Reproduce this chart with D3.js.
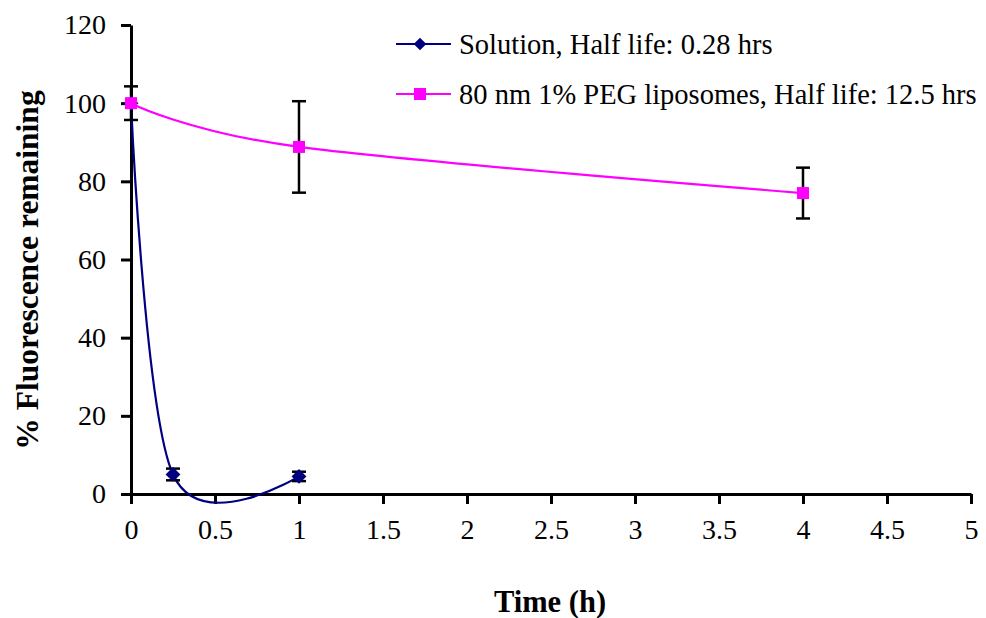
<!DOCTYPE html>
<html><head><meta charset="utf-8">
<script src="https://cdn.jsdelivr.net/npm/d3@7"></script>
</head><body style="margin:0;background:#fff">
<svg id="c" width="986" height="618" font-family="Liberation Serif" style="display:block"></svg>
<script>
const solutionTimes = [0, 0.25, 1];
const solutionValues = [100, 5.0, 4.5];
const solutionErrors = [4.3, 1.5, 1.2];
const liposomeTimes = [0, 1, 4];
const liposomeValues = [100, 88.8, 77];
const liposomeErrors = [0, 11.7, 6.5];
const xTicks = [0, 0.5, 1, 1.5, 2, 2.5, 3, 3.5, 4, 4.5, 5];
const yTicks = [0, 20, 40, 60, 80, 100, 120];
const seriesNames = ["Solution, Half life: 0.28 hrs", "80 nm 1% PEG liposomes, Half life: 12.5 hrs"];

const FONT = '"Liberation Serif"';
const svg = d3.select("#c");
const x = d3.scaleLinear().domain([0, 5]).range([131, 971]);
const y = d3.scaleLinear().domain([0, 120]).range([494, 25]);

const xAxis = svg.append("g").attr("transform", "translate(0,494)")
  .call(d3.axisBottom(x).tickValues(xTicks).tickSize(10).tickSizeOuter(0).tickPadding(15).tickFormat(d => String(d)));
const yAxis = svg.append("g").attr("transform", "translate(131,0)")
  .call(d3.axisLeft(y).tickValues(yTicks).tickSize(10).tickSizeOuter(0).tickPadding(15));
[xAxis, yAxis].forEach(a => {
  a.attr("font-family", "Liberation Serif").attr("font-size", 28);
  a.select(".domain").attr("stroke", "#000").attr("stroke-width", 3);
  a.selectAll(".tick line").attr("stroke", "#000").attr("stroke-width", 3);
  a.selectAll(".tick text").style("font-family", FONT).style("font-size", "28px").attr("fill", "#000");
});

const sol = solutionTimes.map((t, i) => ({t, v: solutionValues[i], e: solutionErrors[i]}));
const lip = liposomeTimes.map((t, i) => ({t, v: liposomeValues[i], e: liposomeErrors[i]}));

const line = d3.line().x(d => x(d.t)).y(d => y(d.v)).curve(d3.curveCardinal.tension(0));

svg.append("path").datum(lip).attr("d", line).attr("fill", "none").attr("stroke", "#FF00FF").attr("stroke-width", 2.2);
svg.append("path").datum(sol).attr("d", line).attr("fill", "none").attr("stroke", "#000080").attr("stroke-width", 2.2);

function errBars(data) {
  const g = svg.append("g").attr("stroke", "#000").attr("stroke-width", 2.5);
  data.filter(d => d.e > 0).forEach(d => {
    g.append("line").attr("x1", x(d.t)).attr("x2", x(d.t)).attr("y1", y(d.v + d.e)).attr("y2", y(d.v - d.e));
    [d.v + d.e, d.v - d.e].forEach(v => g.append("line").attr("x1", x(d.t) - 7).attr("x2", x(d.t) + 7).attr("y1", y(v)).attr("y2", y(v)));
  });
}
errBars(sol);
errBars(lip);

svg.append("g").selectAll("path").data(sol).join("path")
  .attr("d", d3.symbol().type(d3.symbolSquare).size(110))
  .attr("transform", d => `translate(${x(d.t)},${y(d.v)}) rotate(45)`).attr("fill", "#000080");
svg.append("g").selectAll("rect").data(lip).join("rect")
  .attr("x", d => x(d.t) - 6).attr("y", d => y(d.v) - 6).attr("width", 12).attr("height", 12).attr("fill", "#FF00FF");

const legend = svg.append("g");
const legendColors = ["#000080", "#FF00FF"];
seriesNames.forEach((name, i) => {
  const ly = 44 + i * 50;
  legend.append("line").attr("x1", 396).attr("x2", 451).attr("y1", ly).attr("y2", ly).attr("stroke", legendColors[i]).attr("stroke-width", 2.2);
  if (i === 0) legend.append("path").attr("d", d3.symbol().type(d3.symbolSquare).size(80)).attr("transform", `translate(420,${ly}) rotate(45)`).attr("fill", legendColors[i]);
  else legend.append("rect").attr("x", 414).attr("y", ly - 6).attr("width", 12).attr("height", 12).attr("fill", legendColors[i]);
  legend.append("text").attr("x", 459).attr("y", ly).attr("dy", "0.35em").style("font-family", FONT).style("font-size", "28.5px").text(name);
});

svg.append("text").attr("x", 550).attr("y", 612).attr("text-anchor", "middle").style("font-family", FONT).style("font-size", "30.5px").style("font-weight", "bold").text("Time (h)");
svg.append("text").attr("transform", "translate(38,270) rotate(-90)").attr("text-anchor", "middle").style("font-family", FONT).style("font-size", "31.5px").style("font-weight", "bold").text("% Fluorescence remaining");
</script></body></html>
